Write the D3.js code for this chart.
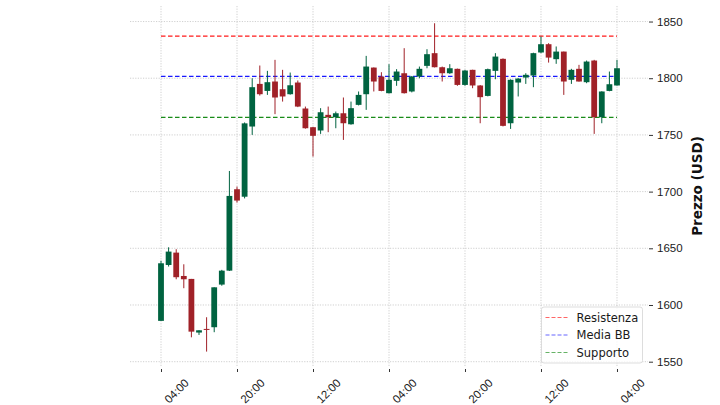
<!DOCTYPE html>
<html lang="it">
    <head>
        <meta charset="utf-8">
        <title>Candlestick con livelli</title>
        <script type="text/javascript" src="https://cdn.jsdelivr.net/npm/d3@7"></script>
        <style>
            body { margin: 0; background: #fff; }
            svg { display: block; font-family: "DejaVu Sans", sans-serif; }
        </style>
    </head>

    <body>
        <script type="text/javascript">

            // OHLC per candela (indice 0..60)
            var opens  = [1586.0,1635.3,1646.2,1625.6,1623.0,1575.7,1578.9,1580.4,1618.0,1630.3,
                          1702.1,1695.5,1757.4,1795.0,1788.8,1797.1,1790.3,1785.9,1796.2,1773.3,
                          1756.8,1753.9,1767.7,1765.6,1769.1,1759.4,1776.5,1785.9,1809.4,1801.5,
                          1786.8,1797.7,1804.4,1788.3,1801.5,1810.9,1822.1,1809.7,1804.4,1808.3,
                          1794.1,1807.4,1793.6,1784.4,1806.5,1817.1,1760.3,1796.2,1800.6,1802.4,
                          1822.7,1830.0,1816.8,1823.5,1798.6,1808.3,1796.5,1815.6,1765.6,1788.8,
                          1793.6];
            var highs  = [1639.0,1650.9,1649.2,1635.9,1623.0,1577.7,1589.2,1615.6,1631.0,1718.2,
                          1704.4,1761.0,1800.0,1811.2,1806.5,1816.2,1807.4,1805.0,1798.0,1775.0,
                          1757.0,1773.6,1775.0,1770.6,1783.0,1779.4,1788.3,1819.7,1809.5,1805.3,
                          1812.4,1808.0,1826.5,1802.0,1810.3,1825.6,1848.5,1810.3,1812.4,1808.5,
                          1807.4,1807.5,1794.0,1808.5,1822.1,1817.5,1799.0,1800.0,1804.4,1822.5,
                          1836.8,1830.9,1828.0,1823.5,1808.3,1811.8,1815.6,1816.2,1788.5,1805.9,
                          1816.2];
            var lows   = [1586.0,1633.9,1622.7,1614.8,1571.5,1573.6,1558.9,1576.0,1617.0,1630.0,
                          1690.3,1694.0,1750.0,1784.7,1785.3,1768.3,1779.4,1785.5,1774.5,1755.5,
                          1730.9,1750.9,1752.4,1755.9,1745.6,1759.0,1776.0,1772.1,1788.3,1788.5,
                          1786.5,1793.3,1786.5,1787.5,1800.0,1808.8,1809.5,1797.1,1803.8,1793.3,
                          1793.3,1791.2,1760.3,1784.0,1799.1,1757.5,1755.3,1783.9,1795.0,1792.1,
                          1822.1,1813.8,1812.7,1785.3,1795.0,1797.0,1795.6,1750.9,1760.3,1788.5,
                          1793.5];
            var closes = [1636.8,1647.1,1624.5,1622.7,1576.5,1577.7,1578.3,1615.6,1630.3,1696.2,
                          1692.1,1760.2,1792.1,1785.9,1796.5,1783.0,1783.9,1793.8,1775.0,1755.9,
                          1749.2,1770.0,1765.6,1769.1,1760.3,1773.6,1785.3,1810.3,1797.1,1788.8,
                          1798.6,1805.9,1786.8,1801.5,1808.3,1821.2,1809.7,1804.4,1808.8,1794.1,
                          1806.8,1793.6,1783.3,1808.0,1819.1,1758.0,1798.6,1799.7,1803.0,1822.1,
                          1830.0,1818.2,1823.5,1797.1,1807.4,1797.1,1814.7,1765.6,1788.3,1794.7,
                          1808.8];

            // etichette asse x (una ogni 10 candele)
            var xTickIdx = [0, 10, 20, 30, 40, 50, 60];
            var xTickLabels = ["04:00", "20:00", "12:00", "04:00", "20:00", "12:00", "04:00"];
            var yTicks = [1550, 1600, 1650, 1700, 1750, 1800, 1850];

            // livelli orizzontali
            var levelNames  = ["Resistenza", "Media BB", "Supporto"];
            var levelValues = [1837.2, 1801.7, 1765.5];
            var levelColors = ["#ff0000", "#0000ff", "#008000"];

            var upColor = "#006340", downColor = "#a02128";

            var w = 720, h = 405;
            // NB: "top" is window.top, so use other names
            var padL = 130, padR = 648, padT = 6, padB = 366;

            var svg = d3.select("body").append("svg").attr("width", w).attr("height", h);

            var x = d3.scaleLinear().domain([-4.08, 64.08]).range([padL, padR]);
            var y = d3.scaleLinear().domain([1546.2, 1863.7]).range([padB, padT]);

            // griglia puntinata
            var grid = svg.append("g");
            grid.selectAll("line.gx")
                .data(xTickIdx)
                .enter()
                .append("line")
                .attr("x1", function(d) {return x(d)})
                .attr("x2", function(d) {return x(d)})
                .attr("y1", padT)
                .attr("y2", padB)
                .attr("stroke", "#c4c4c4")
                .attr("stroke-width", 0.8)
                .attr("stroke-dasharray", "1.2,1.4");
            grid.selectAll("line.gy")
                .data(yTicks)
                .enter()
                .append("line")
                .attr("x1", padL)
                .attr("x2", padR)
                .attr("y1", function(d) {return y(d)})
                .attr("y2", function(d) {return y(d)})
                .attr("stroke", "#c4c4c4")
                .attr("stroke-width", 0.8)
                .attr("stroke-dasharray", "1.2,1.4");

            // linee di livello
            svg.selectAll("line.level")
                .data(levelValues)
                .enter()
                .append("line")
                .attr("x1", x(0))
                .attr("x2", x(60))
                .attr("y1", function(d) {return y(d)})
                .attr("y2", function(d) {return y(d)})
                .attr("stroke", function(d, i) {return levelColors[i]})
                .attr("stroke-opacity", 0.9)
                .attr("stroke-width", 1.2)
                .attr("stroke-dasharray", "4.5,2.5");

            // candele
            var idx = d3.range(opens.length);
            var bodyW = 5.8;
            function col(i) {return closes[i] >= opens[i] ? upColor : downColor;}

            svg.selectAll("line.wick")
                .data(idx)
                .enter()
                .append("line")
                .attr("x1", function(i) {return x(i)})
                .attr("x2", function(i) {return x(i)})
                .attr("y1", function(i) {return y(highs[i])})
                .attr("y2", function(i) {return y(lows[i])})
                .attr("stroke", col)
                .attr("stroke-width", 1);

            svg.selectAll("rect.body")
                .data(idx)
                .enter()
                .append("rect")
                .attr("x", function(i) {return x(i) - bodyW / 2})
                .attr("y", function(i) {return y(Math.max(opens[i], closes[i]))})
                .attr("width", bodyW)
                .attr("height", function(i) {return Math.max(1, Math.abs(y(opens[i]) - y(closes[i])))})
                .attr("fill", col);

            // asse y a destra
            var yAxis = svg.append("g")
                .attr("transform", "translate(" + (padR + 1) + ",0)")
                .call(d3.axisRight(y).tickValues(yTicks).tickSize(4).tickPadding(4).tickFormat(d3.format("d")));
            yAxis.select(".domain").remove();
            yAxis.selectAll("line").attr("stroke", "#333");
            yAxis.selectAll("text").attr("fill", "#1a1a1a").style("font-size", "11.5px");

            // asse x
            var xAxis = svg.append("g")
                .attr("transform", "translate(0," + (padB + 3) + ")")
                .call(d3.axisBottom(x).tickValues(xTickIdx).tickSize(3)
                    .tickFormat(function(d, i) {return xTickLabels[i]}));
            xAxis.select(".domain").remove();
            xAxis.selectAll("line").attr("stroke", "#333");
            xAxis.selectAll("text")
                .attr("fill", "#1a1a1a")
                .style("font-size", "11.5px")
                .attr("x", 0)
                .attr("y", 0)
                .attr("dy", "0.35em")
                .attr("text-anchor", "middle")
                .attr("transform", "translate(15,22) rotate(-45)");

            // titolo asse y
            svg.append("text")
                .attr("transform", "translate(702," + ((padT + padB) / 2) + ") rotate(-90)")
                .attr("text-anchor", "middle")
                .style("font-size", "13.5px")
                .style("font-weight", "bold")
                .attr("fill", "#111")
                .text("Prezzo (USD)");

            // legenda
            var lg = svg.append("g").attr("transform", "translate(541.5,307)");
            lg.append("rect")
                .attr("width", 101)
                .attr("height", 56)
                .attr("rx", 2.5)
                .attr("fill", "#fff")
                .attr("fill-opacity", 0.8)
                .attr("stroke", "#d4d4d4")
                .attr("stroke-width", 0.8);
            var items = lg.selectAll("g.item")
                .data(levelNames)
                .enter()
                .append("g")
                .attr("transform", function(d, i) {return "translate(0," + (10.5 + i * 17.5) + ")"});
            items.append("line")
                .attr("x1", 4)
                .attr("x2", 27)
                .attr("stroke", function(d, i) {return levelColors[i]})
                .attr("stroke-opacity", 0.6)
                .attr("stroke-width", 1.2)
                .attr("stroke-dasharray", "4,2");
            items.append("text")
                .attr("x", 35)
                .attr("dy", "0.35em")
                .style("font-size", "11.5px")
                .attr("fill", "#1a1a1a")
                .text(function(d) {return d});

        </script>
    </body>
</html>
